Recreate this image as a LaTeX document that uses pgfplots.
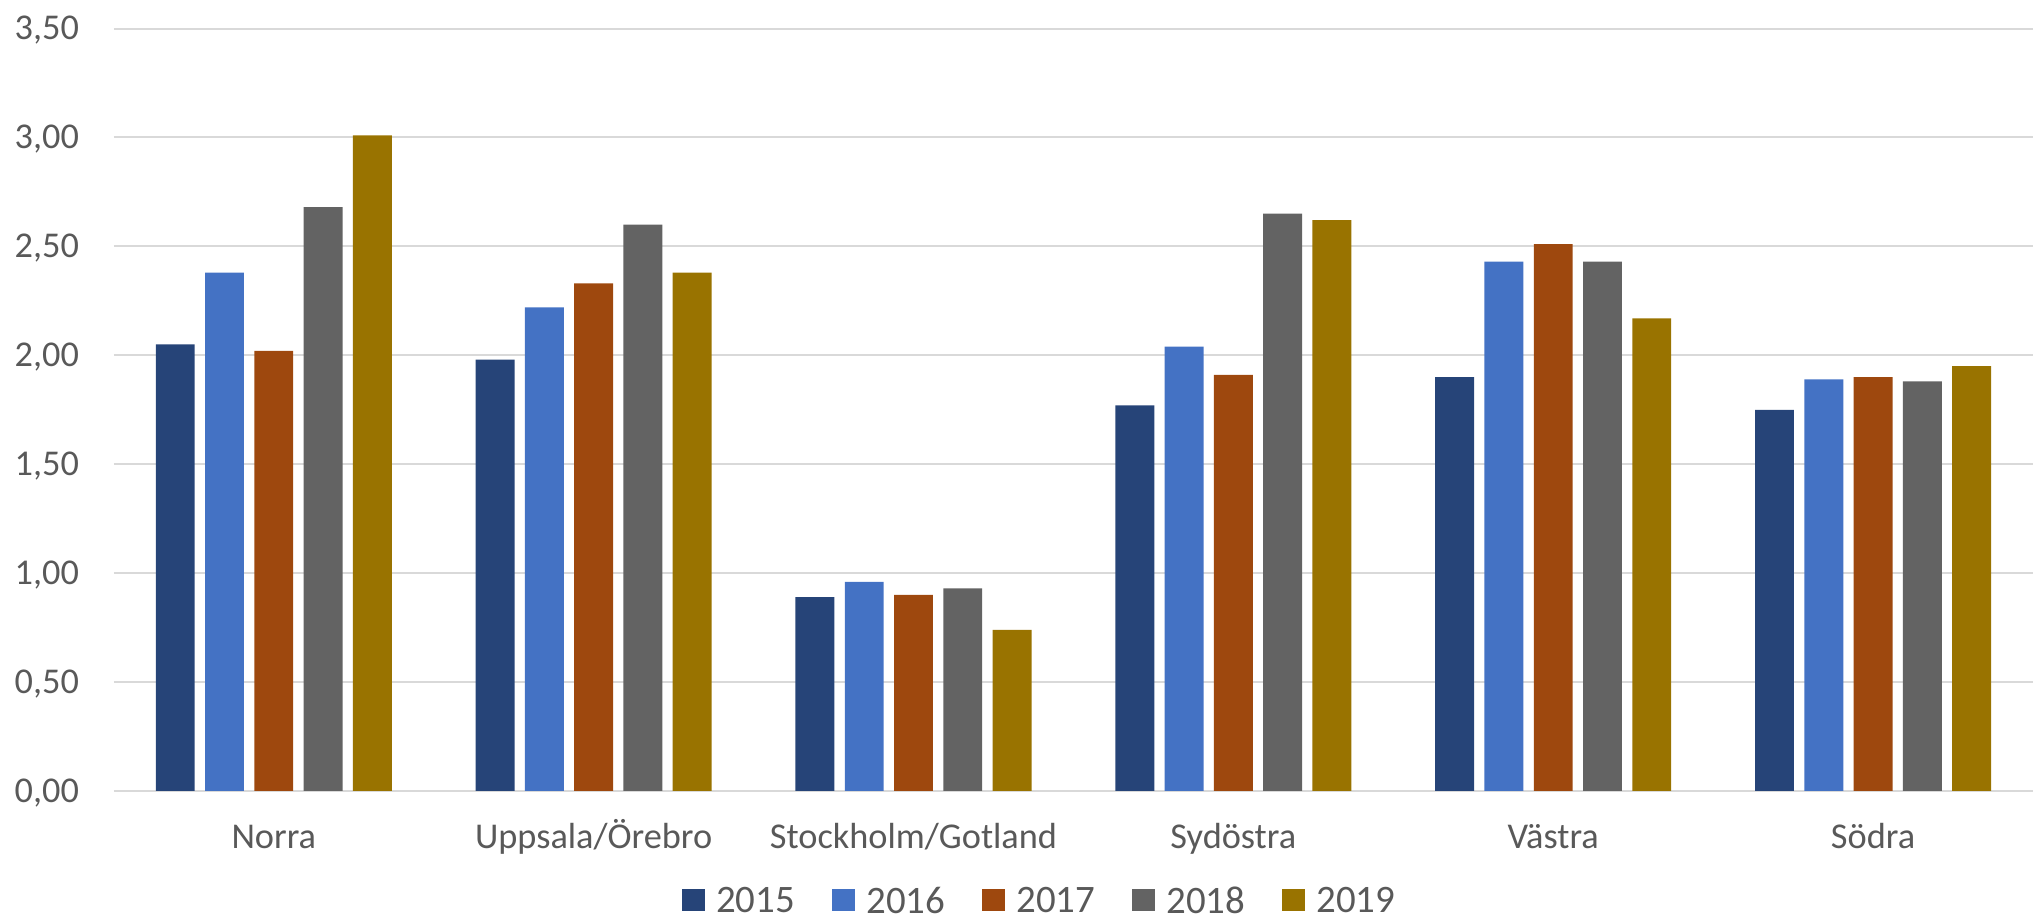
\documentclass[border=0pt]{standalone}
\usepackage{fontspec}
\setmainfont{Carlito}
\usepackage{pgfplots}
\pgfplotsset{compat=1.18}
\definecolor{c15}{HTML}{264478}
\definecolor{c16}{HTML}{4472C4}
\definecolor{c17}{HTML}{9E480E}
\definecolor{c18}{HTML}{636363}
\definecolor{c19}{HTML}{997300}
\definecolor{txt}{HTML}{595959}
\definecolor{grd}{HTML}{D9D9D9}
\begin{document}
\begin{tikzpicture}
\useasboundingbox (-43.9pt,-50pt) rectangle (740pt,305pt);
\begin{axis}[
  scale only axis,
  width=740pt, height=294pt,
  at={(0pt,0pt)}, anchor=south west,
  xmin=-0.5, xmax=5.5, ymin=0, ymax=3.5,
  ybar=4pt, bar width=15pt,
  xtick={0,1,2,3,4,5},
  xticklabels={Norra,Uppsala/Örebro,Stockholm/Gotland,Sydöstra,Västra,Södra},
  ytick={0,0.5,1,1.5,2,2.5,3,3.5},
  ymajorgrids, grid style={grd, line width=0.77pt},
  axis line style={draw=none},
  major tick length=0pt,
  tick style={draw=none},
  /pgf/number format/assume math mode=true,
  yticklabel={\pgfmathprintnumber[fixed,fixed zerofill,precision=2,use comma]{\tick}},
  yticklabel style={font=\fontsize{14pt}{16pt}\selectfont, text=txt, inner sep=0pt, anchor=base east, xshift=-13.25pt, yshift=-4.42pt},
  xticklabel style={font=\fontsize{14pt}{16pt}\selectfont, text=txt, inner sep=0pt, anchor=base, yshift=-22.1pt},
  legend columns=5,
  legend image code/.code={\fill[#1] (0pt,-4.35pt) rectangle (8.7pt,4.35pt);},
  legend style={at={(axis description cs:0.4819,0)}, anchor=center, yshift=-42pt, draw=none, fill=none,
    font=\fontsize{15pt}{17pt}\selectfont, text=txt, inner sep=0pt,
    nodes={inner sep=0pt, text depth=0pt},
    /tikz/every odd column/.append style={column sep=4.5pt},
    /tikz/every even column/.append style={column sep=14.25pt}},
]
\addplot[fill=c15, draw=none] coordinates {(0,2.05) (1,1.98) (2,0.89) (3,1.77) (4,1.90) (5,1.75)};
\addplot[fill=c16, draw=none] coordinates {(0,2.38) (1,2.22) (2,0.96) (3,2.04) (4,2.43) (5,1.89)};
\addplot[fill=c17, draw=none] coordinates {(0,2.02) (1,2.33) (2,0.90) (3,1.91) (4,2.51) (5,1.90)};
\addplot[fill=c18, draw=none] coordinates {(0,2.68) (1,2.60) (2,0.93) (3,2.65) (4,2.43) (5,1.88)};
\addplot[fill=c19, draw=none] coordinates {(0,3.01) (1,2.38) (2,0.74) (3,2.62) (4,2.17) (5,1.95)};
\legend{2015,2016,2017,2018,2019}
\end{axis}
\end{tikzpicture}
\end{document}
